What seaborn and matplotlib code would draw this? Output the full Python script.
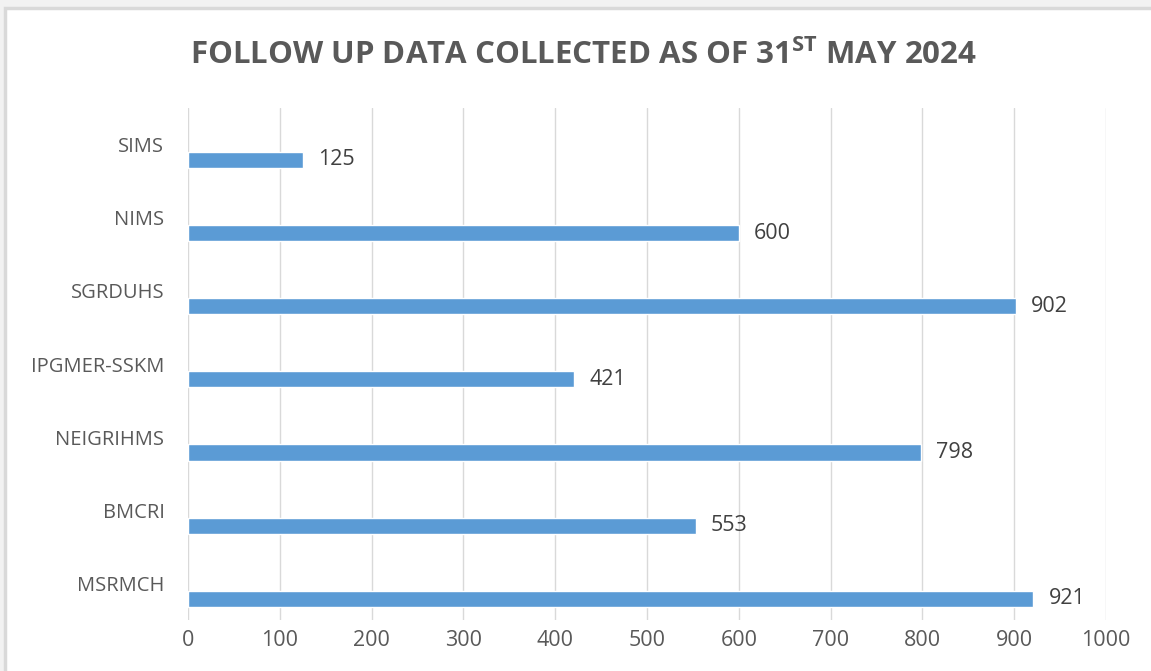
import matplotlib
matplotlib.use("Agg")
import matplotlib.pyplot as plt
import seaborn as sns
import pandas as pd
import numpy as np
from matplotlib.patches import Rectangle

categories = ["SIMS", "NIMS", "SGRDUHS", "IPGMER-SSKM", "NEIGRIHMS", "BMCRI", "MSRMCH"]
values = [125, 600, 902, 421, 798, 553, 921]
xticks = [0, 100, 200, 300, 400, 500, 600, 700, 800, 900, 1000]
title_main = "FOLLOW UP DATA COLLECTED AS OF 31"
title_sup = "ST"
title_end = " MAY 2024"

sns.set_theme(style="white")
fam = ["Liberation Sans Narrow", "Open Sans", "DejaVu Sans"]
plt.rcParams["font.family"] = fam
gray = "#595959"

df = pd.DataFrame({"site": categories, "count": values})

fig = plt.figure(figsize=(11.51, 6.71), dpi=100)
fig.patch.set_facecolor("#f2f2f2")
fig.patches.append(Rectangle((5/1151, -0.01), 1.0, 1.01 - 8/671, transform=fig.transFigure,
                             facecolor="white", edgecolor="#d9d9d9", linewidth=2.5, zorder=-10))

ax = fig.add_axes([188/1151, 1 - 620/671, (1106 - 188)/1151, 512/671])
ax.set_facecolor("none")
sns.barplot(data=df, y="site", x="count", orient="h", color="#5b9bd5",
            width=0.22, saturation=1, ax=ax, zorder=3)

n = len(categories)
off = 0.21
ax.set_ylim(n - 0.5 - off, -0.5 - off)
ax.set_yticks(np.arange(n) - off, labels=categories)
ax.set_xlim(0, 1000)
ax.set_xticks(xticks, labels=[str(t) for t in xticks])
ax.grid(axis="x", color="#d9d9d9", linewidth=1)
ax.grid(axis="y", visible=False)
for s in ax.spines.values():
    s.set_visible(False)
ax.set_xlabel("")
ax.set_ylabel("")
ax.tick_params(axis="y", length=0, pad=17, labelsize=14.5, labelcolor=gray)
ax.tick_params(axis="x", length=0, pad=7, labelsize=15.5, labelcolor=gray)

for c in ax.containers:
    ax.bar_label(c, labels=[str(v) for v in values], padding=11, fontsize=15.5, color="#404040")

fig.text(0.5065, 0.918, title_main + r"$^{\mathregular{" + title_sup + r"}}$" + title_end,
         ha="center", va="center", fontsize=22.5, fontweight="bold", color=gray)

fig.savefig("out.png", dpi=100, facecolor=fig.get_facecolor())
